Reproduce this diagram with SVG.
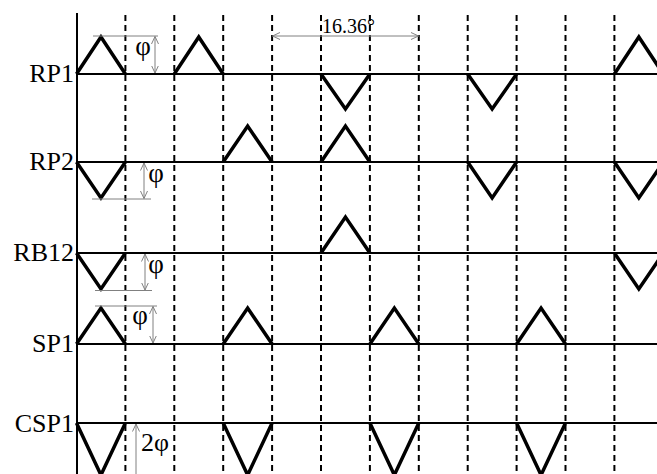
<svg xmlns="http://www.w3.org/2000/svg" width="657" height="474" viewBox="0 0 657 474">
<style>
.lbl{font-family:"Liberation Serif","Times New Roman",serif;font-size:26px;fill:#000;text-anchor:end}
.sym{font-family:"Liberation Serif","Times New Roman",serif;font-size:27px;fill:#000;text-anchor:middle}
.dim{font-family:"Liberation Serif","Times New Roman",serif;font-size:20px;fill:#000}
.dash{stroke:#000;stroke-width:2;stroke-dasharray:6,4;fill:none}
.base{stroke:#000;stroke-width:2;fill:none}
.tri{stroke:#000;stroke-width:3.5;fill:none;stroke-linejoin:miter}
.gray{stroke:#808080;stroke-width:1;fill:none}
</style>
<defs>
<marker id="ah" viewBox="0 0 8 8" refX="7.5" refY="4" markerWidth="8" markerHeight="8" markerUnits="userSpaceOnUse" orient="auto-start-reverse">
<path d="M0,0.5 L7.5,4 L0,7.5" fill="none" stroke="#808080" stroke-width="1"/>
</marker>
</defs>
<g id="grid">
<line class="base" x1="77" y1="13" x2="77" y2="474"/>
<path class="dash" d="M125.4,15V474M174.3,15V474M223.2,15V474M272.1,15V474M321,15V474M369.9,15V474M418.8,15V474M467.7,15V474M516.6,15V474M565.5,15V474M614.4,15V474"/>
</g>
<g id="RP1">
<text class="lbl" x="74" y="82">RP1</text>
<line class="base" x1="77" y1="74" x2="657" y2="74"/>
<path class="tri" d="M76.5,74L100.95,37L125.4,74M174.3,74L198.75,37L223.2,74M321,74L345.45,109L369.9,74M467.7,74L492.15,109L516.6,74M614.4,74L638.85,37L663.3,74"/>
</g>
<g id="RP2">
<text class="lbl" x="74" y="170">RP2</text>
<line class="base" x1="77" y1="162" x2="657" y2="162"/>
<path class="tri" d="M76.5,162L100.95,198L125.4,162M223.2,162L247.65,126L272.1,162M321,162L345.45,126L369.9,162M467.7,162L492.15,198L516.6,162M614.4,162L638.85,198L663.3,162"/>
</g>
<g id="RB12">
<text class="lbl" x="74" y="261">RB12</text>
<line class="base" x1="77" y1="253" x2="657" y2="253"/>
<path class="tri" d="M76.5,253L100.95,289L125.4,253M321,253L345.45,217L369.9,253M614.4,253L638.85,289L663.3,253"/>
</g>
<g id="SP1">
<text class="lbl" x="74" y="352">SP1</text>
<line class="base" x1="77" y1="344" x2="657" y2="344"/>
<path class="tri" d="M76.5,344L100.95,308L125.4,344M223.2,344L247.65,308L272.1,344M369.9,344L394.35,308L418.8,344M516.6,344L541.05,308L565.5,344"/>
</g>
<g id="CSP1">
<text class="lbl" x="74" y="432">CSP1</text>
<line class="base" x1="77" y1="423" x2="657" y2="423"/>
<path class="tri" d="M76.5,423L100.95,475L125.4,423M223.2,423L247.65,475L272.1,423M369.9,423L394.35,475L418.8,423M516.6,423L541.05,475L565.5,423"/>
</g>
<g id="connectors">
<line class="gray" x1="93" y1="36" x2="158" y2="36"/>
<line class="gray" x1="155" y1="36.5" x2="155" y2="73" marker-start="url(#ah)" marker-end="url(#ah)"/>
<line class="gray" x1="92" y1="199" x2="151" y2="199"/>
<line class="gray" x1="144" y1="163" x2="144" y2="198.5" marker-start="url(#ah)" marker-end="url(#ah)"/>
<line class="gray" x1="95" y1="290.5" x2="152" y2="290.5"/>
<line class="gray" x1="145" y1="254" x2="145" y2="290" marker-start="url(#ah)" marker-end="url(#ah)"/>
<line class="gray" x1="95" y1="306" x2="157" y2="306"/>
<line class="gray" x1="153" y1="306.5" x2="153" y2="343" marker-start="url(#ah)" marker-end="url(#ah)"/>
<line class="gray" x1="136" y1="474" x2="136" y2="424" marker-end="url(#ah)"/>
<line class="gray" x1="272.5" y1="36" x2="418.5" y2="36" marker-start="url(#ah)" marker-end="url(#ah)"/>
</g>
<g id="labels">
<text class="sym" x="143" y="55">φ</text>
<text class="sym" x="156" y="182">φ</text>
<text class="sym" x="156" y="273">φ</text>
<text class="sym" x="140" y="324">φ</text>
<text class="sym" x="155" y="451" style="font-size:26px">2φ</text>
<text class="dim" x="322" y="33">16.36°</text>
</g>
</svg>
